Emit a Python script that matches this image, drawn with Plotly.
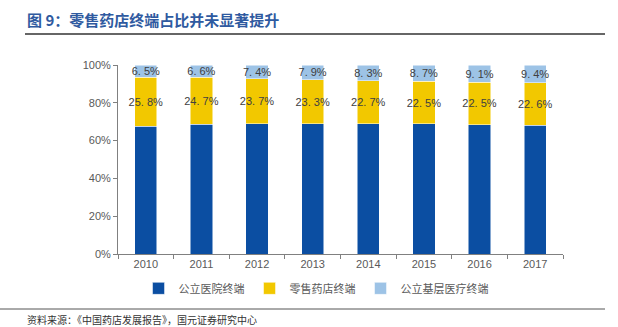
import plotly.graph_objects as go

years = ["2010", "2011", "2012", "2013", "2014", "2015", "2016", "2017"]
retail = [25.8, 24.7, 23.7, 23.3, 22.7, 22.5, 22.5, 22.6]
grassroots = [6.5, 6.6, 7.4, 7.9, 8.3, 8.7, 9.1, 9.4]
hospital = [round(100 - r - g, 1) for r, g in zip(retail, grassroots)]

names = ["公立医院终端", "零售药店终端", "公立基层医疗终端"]
colors = ["#0B4EA2", "#F2C800", "#9DC3E6"]

fig = go.Figure()
fig.add_bar(x=years, y=hospital, name=names[0], marker_color=colors[0],
            marker_line_color="white", marker_line_width=0.5)
fig.add_bar(x=years, y=retail, name=names[1], marker_color=colors[1],
            marker_line_color="white", marker_line_width=0.5,
            text=[f"{v:.1f}%".replace(".", ". ") for v in retail],
            textposition="inside", insidetextanchor="middle", textangle=0,
            textfont=dict(color="#404040", size=11), constraintext="none")
fig.add_bar(x=years, y=grassroots, name=names[2], marker_color=colors[2],
            marker_line_color="white", marker_line_width=0.5,
            text=[f"{v:.1f}%".replace(".", ". ") for v in grassroots],
            textposition="inside", insidetextanchor="middle", textangle=0,
            textfont=dict(color="#404040", size=11), constraintext="none")

fig.update_layout(
    barmode="stack", bargap=0.6,
    width=618, height=327,
    margin=dict(l=118, r=55, t=65, b=73),
    plot_bgcolor="white", paper_bgcolor="white",
    font=dict(family="Liberation Sans, Noto Sans CJK SC", size=11, color="#595959"),
    uniformtext=dict(mode=False),
    showlegend=True,
    legend=dict(orientation="h", x=0.445, xanchor="center", y=-0.105, yanchor="top",
                font=dict(family="Noto Sans CJK SC", size=11, color="#595959"),
                itemwidth=30, traceorder="normal"),
    xaxis=dict(type="category", showline=True, linecolor="#808080", linewidth=1,
               ticks="outside", tickson="boundaries", ticklen=4, tickcolor="#808080",
               tickfont=dict(size=11, color="#595959")),
    yaxis=dict(range=[0, 100], dtick=20, ticksuffix="%", showgrid=False,
               showline=True, linecolor="#808080", linewidth=1,
               ticks="outside", ticklen=4, tickcolor="#808080",
               tickfont=dict(size=11, color="#595959"), zeroline=False),
)

fig.add_annotation(text="<b>图 9：零售药店终端占比并未显著提升</b>", xref="paper", yref="paper",
                   x=-93/445, y=1 + (65 - 20) / 189, xanchor="left", yanchor="middle",
                   showarrow=False,
                   font=dict(family="Noto Sans CJK SC", size=15, color="#2F5AA0"))
fig.add_shape(type="line", xref="paper", yref="paper",
              x0=-93/445, x1=(605 - 118) / 445, y0=1 + (65 - 34) / 189, y1=1 + (65 - 34) / 189,
              line=dict(color="#333333", width=1.5))
fig.add_shape(type="line", xref="paper", yref="paper",
              x0=-118/445, x1=(605 - 118) / 445, y0=-(309 - 254) / 189, y1=-(309 - 254) / 189,
              line=dict(color="#555555", width=1))
fig.add_annotation(text="资料来源：《中国药店发展报告》，国元证券研究中心", xref="paper", yref="paper",
                   x=-93/445, y=-(319 - 254) / 189, xanchor="left", yanchor="middle",
                   showarrow=False,
                   font=dict(family="Noto Sans CJK SC", size=10, color="#333333"))

fig.write_html("out.html")
